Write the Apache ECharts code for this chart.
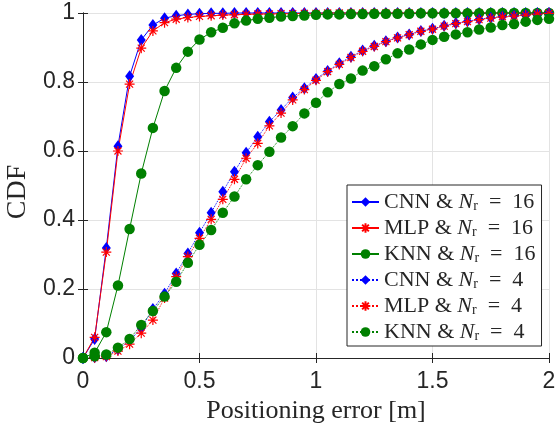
<!DOCTYPE html>
<html>
<head>
<meta charset="utf-8">
<script src="https://cdn.jsdelivr.net/npm/echarts/dist/echarts.min.js"></script>
<style>
  html, body { margin: 0; padding: 0; background: #fff; }
  #chart { width: 556px; height: 428px; }
</style>
</head>
<body>
<div id="chart"></div>
<script>
// positioning error grid [m], step 0.05
var errX = [0, 0.05, 0.1, 0.15, 0.2, 0.25, 0.3, 0.35, 0.4, 0.45, 0.5, 0.55, 0.6, 0.65, 0.7,
  0.75, 0.8, 0.85, 0.9, 0.95, 1, 1.05, 1.1, 1.15, 1.2, 1.25, 1.3, 1.35, 1.4, 1.45, 1.5,
  1.55, 1.6, 1.65, 1.7, 1.75, 1.8, 1.85, 1.9, 1.95, 2];

var cnn16 = [0, 0.055, 0.319, 0.614, 0.817, 0.922, 0.965, 0.985, 0.992, 0.996, 0.998, 0.999, 0.999,
  1, 1, 1, 1, 1, 1, 1, 1, 1, 1, 1, 1, 1, 1, 1, 1, 1, 1, 1, 1, 1, 1, 1, 1, 1, 1, 1, 1];
var mlp16 = [0, 0.06, 0.307, 0.6, 0.794, 0.898, 0.948, 0.972, 0.982, 0.987, 0.99, 0.992, 0.994,
  0.995, 0.996, 0.997, 0.997, 0.998, 0.998, 0.999, 0.999,
  1, 1, 1, 1, 1, 1, 1, 1, 1, 1, 1, 1, 1, 1, 1, 1, 1, 1, 1, 1];
var knn16 = [0, 0.015, 0.075, 0.21, 0.374, 0.535, 0.667, 0.774, 0.841, 0.888, 0.923, 0.944, 0.957,
  0.97, 0.978, 0.983, 0.986, 0.99, 0.991, 0.993, 0.995, 0.996, 0.996, 0.997, 0.997,
  0.998, 0.998, 0.998, 0.998, 0.999, 0.999, 0.999, 0.999, 0.999, 0.999, 1, 1, 1, 1, 1, 1];
var cnn4 = [0, 0.002, 0.005, 0.025, 0.05, 0.087, 0.142, 0.186, 0.245, 0.303, 0.363, 0.421, 0.482,
  0.54, 0.595, 0.641, 0.685, 0.719, 0.755, 0.782, 0.809, 0.832, 0.854, 0.873, 0.891, 0.905,
  0.918, 0.929, 0.938, 0.948, 0.954, 0.963, 0.97, 0.976, 0.982, 0.986, 0.99, 0.992, 0.995, 0.997, 0.999];
var mlp4 = [0, 0.001, 0.004, 0.02, 0.04, 0.072, 0.11, 0.174, 0.236, 0.294, 0.347, 0.402, 0.46,
  0.518, 0.579, 0.622, 0.673, 0.71, 0.748, 0.778, 0.805, 0.83, 0.851, 0.871, 0.889, 0.903,
  0.917, 0.928, 0.937, 0.947, 0.953, 0.962, 0.969, 0.975, 0.981, 0.985, 0.989, 0.991, 0.994, 0.997, 0.999];
var knn4 = [0, 0.005, 0.01, 0.03, 0.055, 0.096, 0.136, 0.178, 0.221, 0.276, 0.328, 0.371, 0.421,
  0.468, 0.518, 0.559, 0.598, 0.639, 0.672, 0.709, 0.74, 0.77, 0.794, 0.81, 0.833, 0.846,
  0.866, 0.883, 0.894, 0.909, 0.922, 0.931, 0.938, 0.944, 0.952, 0.958, 0.965, 0.968, 0.975, 0.98, 0.983];

var xTicks = [0, 0.5, 1, 1.5, 2];
var yTicks = [0, 0.2, 0.4, 0.6, 0.8, 1];

var seriesNames = ["CNN & N_r = 16", "MLP & N_r = 16", "KNN & N_r = 16",
                   "CNN & N_r = 4", "MLP & N_r = 4", "KNN & N_r = 4"];
var seriesData = [cnn16, mlp16, knn16, cnn4, mlp4, knn4];

var ink = "#262626";
var sansFont = '"Liberation Sans", Arial, sans-serif';
var serifFont = '"Liberation Serif", "DejaVu Serif", serif';
var asterisk = "path://M5,0L5,10M0,5L10,5M1.5,1.5L8.5,8.5M1.5,8.5L8.5,1.5";

var looks = [
  { color: "#0000ff", symbol: "diamond", size: [9, 12], dash: "solid" },
  { color: "#ff0000", symbol: asterisk, size: 10, dash: "solid" },
  { color: "#008000", symbol: "circle", size: 10.5, dash: "solid" },
  { color: "#0000ff", symbol: "diamond", size: [9, 12], dash: "dotted" },
  { color: "#ff0000", symbol: asterisk, size: 10, dash: "dotted" },
  { color: "#008000", symbol: "circle", size: 10.5, dash: "dotted" }
];

function pairs(ys) {
  return errX.map(function (x, i) { return [x, ys[i]]; });
}

var series = seriesNames.map(function (name, k) {
  var lk = looks[k];
  var isStar = lk.symbol === asterisk;
  return {
    name: name,
    type: "line",
    data: pairs(seriesData[k]),
    symbol: lk.symbol,
    symbolSize: lk.size,
    showAllSymbol: true,
    clip: false,
    animation: false,
    lineStyle: { color: lk.color, width: 1, type: lk.dash },
    itemStyle: isStar
      ? { color: "rgba(0,0,0,0)", borderColor: lk.color, borderWidth: 1.2 }
      : { color: lk.color, borderWidth: 0 },
    emphasis: { disabled: true }
  };
});

function tickAxis(base) {
  return Object.assign({
    type: "value",
    axisLine: { show: true, lineStyle: { color: ink, width: 1 } },
    axisTick: { show: true, inside: true, length: 5, lineStyle: { color: ink } },
    axisLabel: { show: false },
    splitLine: { show: false }
  }, base);
}

var chart = echarts.init(document.getElementById("chart"), null, { renderer: "canvas" });
chart.setOption({
  backgroundColor: "#fff",
  animation: false,
  grid: { left: 83, right: 7, top: 13, bottom: 70, containLabel: false, outerBoundsMode: "none" },
  xAxis: [
    tickAxis({
      min: 0, max: 2, interval: 0.5, position: "bottom",
      name: "Positioning error [m]", nameLocation: "middle", nameGap: 40,
      nameTextStyle: { fontFamily: serifFont, fontSize: 26, color: ink },
      axisLabel: { show: true, color: ink, fontFamily: sansFont, fontSize: 23, margin: 12,
        formatter: function (v) { return xTicks.indexOf(v) >= 0 ? String(v) : ""; } },
      splitLine: { show: true, lineStyle: { color: "#e3e3e3", width: 1 } }
    }),
    tickAxis({ min: 0, max: 2, interval: 0.5, position: "top" })
  ],
  yAxis: [
    tickAxis({
      min: 0, max: 1, interval: 0.2, position: "left",
      name: "CDF", nameLocation: "middle", nameGap: 50,
      nameTextStyle: { fontFamily: serifFont, fontSize: 28, color: ink, padding: [0, 13, 0, 0] },
      axisLabel: { show: true, color: ink, fontFamily: sansFont, fontSize: 23, margin: 8,
        formatter: function (v) {
          var t = yTicks.filter(function (y) { return Math.abs(y - v) < 1e-9; });
          return t.length ? String(t[0]) : "";
        } },
      splitLine: { show: true, lineStyle: { color: "#e3e3e3", width: 1 } }
    }),
    tickAxis({ min: 0, max: 1, interval: 0.2, position: "right" })
  ],
  legend: {
    orient: "vertical",
    left: 347, top: 185,
    padding: [6, 6, 3, 4],
    itemGap: 4,
    itemWidth: 27, itemHeight: 12,
    backgroundColor: "#fff",
    borderColor: ink, borderWidth: 1, borderRadius: 0,
    data: seriesNames,
    formatter: function (name) {
      var parts = name.split("N_r");
      var tail = parts[1].replace(" = ", "\u2002=\u2002");
      return "{t|" + parts[0] + "}{i|N}{s|r}{t|" + tail + "}";
    },
    textStyle: {
      color: ink, fontFamily: serifFont, fontSize: 22, lineHeight: 22,
      rich: {
        t: { fontFamily: serifFont, fontSize: 22, lineHeight: 22, color: ink },
        i: { fontFamily: serifFont, fontSize: 22, lineHeight: 22, fontStyle: "italic", color: ink },
        s: { fontFamily: serifFont, fontSize: 14, lineHeight: 14, verticalAlign: "bottom", color: ink }
      }
    }
  },
  series: series
});
</script>
</body>
</html>
